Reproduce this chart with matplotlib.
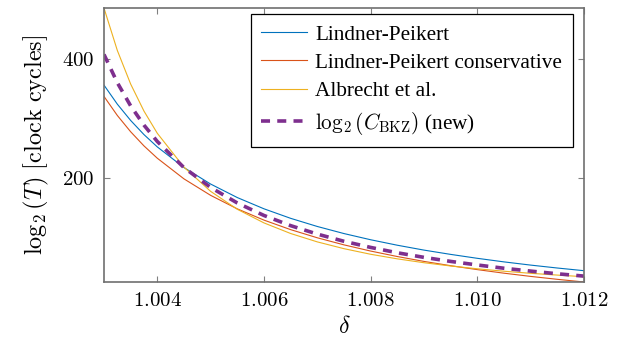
import matplotlib
matplotlib.use("Agg")
import matplotlib.pyplot as plt
from matplotlib.ticker import FuncFormatter

plt.rcParams['font.family'] = ['Liberation Serif', 'DejaVu Serif']
plt.rcParams['mathtext.fontset'] = 'cm'

# delta values and log2(T) readings for each curve
delta = [1.003, 1.00325, 1.0035, 1.00375, 1.004, 1.0045, 1.005, 1.0055, 1.006, 1.0065,
         1.007, 1.0075, 1.008, 1.0085, 1.009, 1.0095, 1.010, 1.0105, 1.011, 1.0115, 1.012]
lindner_peikert = [356.5, 324.5, 297.1, 273.3, 252.6, 217.9, 190.2, 167.5, 148.6, 132.6,
                   118.9, 107.0, 96.6, 87.4, 79.2, 72.0, 65.4, 59.4, 54.0, 49.1, 44.6]
lp_conservative = [337.5, 305.5, 278.1, 254.3, 233.6, 198.9, 171.2, 148.5, 129.6, 113.6,
                   99.9, 88.0, 77.6, 68.4, 60.2, 53.0, 46.4, 40.4, 35.0, 30.1, 25.6]
albrecht = [486.0, 414.8, 358.3, 312.8, 275.5, 218.6, 177.9, 147.8, 124.9, 107.1,
            93.0, 81.6, 72.2, 64.5, 58.0, 52.5, 47.8, 43.7, 40.2, 37.2, 34.5]
c_bkz = [408.0, 360.6, 321.6, 289.2, 261.7, 217.8, 184.5, 158.4, 137.4, 120.3,
         106.1, 94.0, 83.7, 74.7, 67.0, 60.2, 54.2, 48.7, 43.9, 39.4, 35.5]

xticks = [1.004, 1.006, 1.008, 1.010, 1.012]
yticks = [200, 400]

fig = plt.figure(figsize=(6.34, 3.49), dpi=100)
ax = fig.add_axes([0.164, 0.192, 0.757, 0.785])

ax.plot(delta, lindner_peikert, color='#0072BD', lw=0.8, label='Lindner-Peikert')
ax.plot(delta, lp_conservative, color='#D95319', lw=0.8, label='Lindner-Peikert conservative')
ax.plot(delta, albrecht, color='#EDB120', lw=0.8, label='Albrecht et al.')
ax.plot(delta, c_bkz, color='#7E2F8E', lw=2.6, dashes=(2.5, 2.0),
        label=r'$\log_2(C_{\mathrm{BKZ}})$ (new)')

ax.set_xlim(min(delta), max(delta))
ax.set_ylim(min(lp_conservative), max(albrecht))
ax.set_xticks(xticks)
ax.set_yticks(yticks)
ax.xaxis.set_major_formatter(FuncFormatter(lambda v, p: '$%.3f$' % v))
ax.yaxis.set_major_formatter(FuncFormatter(lambda v, p: '$%d$' % v))
ax.tick_params(direction='in', length=4.5, width=0.8, color='#808080',
               top=True, right=True, labelsize=15, pad=7)
for s in ax.spines.values():
    s.set_color('#707070')
    s.set_linewidth(1.2)

ax.set_xlabel(r'$\delta$', fontsize=17, labelpad=4)
ax.set_ylabel(r'$\log_2(T)\ \mathrm{[clock\ cycles]}$', fontsize=17.5, labelpad=8)

leg = ax.legend(loc='upper right', bbox_to_anchor=(0.977, 0.978), borderaxespad=0,
                fontsize=15.3, frameon=True, fancybox=False,
                edgecolor='black', framealpha=1, handlelength=2.15, handletextpad=0.4,
                labelspacing=0.4, borderpad=0.5)
leg.get_frame().set_linewidth(0.9)

fig.savefig('out.png', dpi=100)
